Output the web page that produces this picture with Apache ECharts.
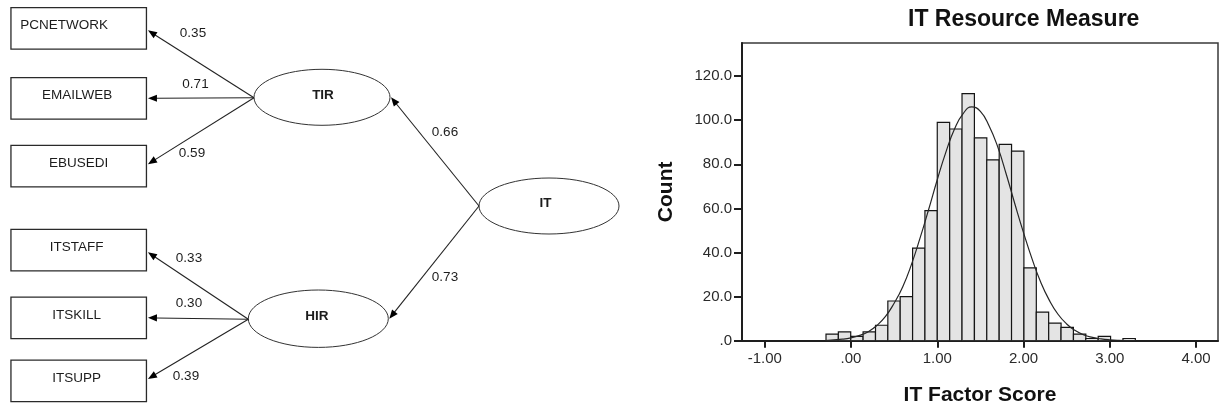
<!DOCTYPE html>
<html><head><meta charset="utf-8">
<script src="https://cdn.jsdelivr.net/npm/echarts@6/dist/echarts.min.js"></script>
<style>html,body{margin:0;padding:0;background:#fff}#chart{width:1219px;height:407px}</style>
</head><body><div id="chart"></div>
<script>
// ================= DATA =================
// Path diagram (structural model)
const indicatorNames = ['PCNETWORK', 'EMAILWEB', 'EBUSEDI', 'ITSTAFF', 'ITSKILL', 'ITSUPP'];
const indicatorFactor = ['TIR', 'TIR', 'TIR', 'HIR', 'HIR', 'HIR'];
const indicatorLoadings = [0.35, 0.71, 0.59, 0.33, 0.30, 0.39];
const factorNames = ['TIR', 'HIR'];
const factorLoadings = [0.66, 0.73];
const higherFactorName = 'IT';

// Histogram
const binStarts = [-0.29, -0.147, -0.003, 0.14, 0.284, 0.427, 0.57, 0.714, 0.857, 1.0, 1.144, 1.287, 1.431,
  1.574, 1.718, 1.861, 2.005, 2.148, 2.292, 2.435, 2.579, 2.722, 2.866, 3.009, 3.153];
const binWidth = 0.1435;
const binCounts = [3, 4, 2, 4, 7, 18, 20, 42, 59, 99, 96, 112, 92, 82, 89, 86, 33, 13, 8, 6, 3, 1, 2, 0, 1];

// Fitted normal curve
const curveX = [-0.3, -0.1, 0.0, 0.1, 0.2, 0.3, 0.4, 0.5, 0.6, 0.7, 0.8, 0.9, 1.0, 1.1, 1.2, 1.3, 1.4,
  1.5, 1.6, 1.7, 1.8, 1.9, 2.0, 2.1, 2.2, 2.3, 2.4, 2.5, 2.6, 2.7, 2.8, 2.9, 3.0, 3.1, 3.3];
const curveY = [0.1, 0.7, 1.3, 2.4, 4.1, 6.9, 11, 17, 24.5, 34.5, 46.5, 59.5, 73, 85.5, 96, 103, 106,
  104, 97.5, 88, 75.5, 62, 49, 37, 26.5, 18.3, 12, 7.6, 4.6, 2.6, 1.5, 0.8, 0.4, 0.2, 0.05];

const xTickValues = [-1, 0, 1, 2, 3, 4];
const xTickLabels = ['-1.00', '.00', '1.00', '2.00', '3.00', '4.00'];
const yTickValues = [0, 20, 40, 60, 80, 100, 120];
const yTickLabels = ['.0', '20.0', '40.0', '60.0', '80.0', '100.0', '120.0'];

const chartTitle = 'IT Resource Measure';
const xAxisTitle = 'IT Factor Score';
const yAxisTitle = 'Count';

// ================= LAYOUT (diagram units = px in the hidden diagram grid) =================
const L = {
  boxCx: 78.7, boxW: 135.5, boxH: 41.5,
  boxCy: [28.3, 98.3, 166.2, 250.2, 317.8, 380.8],
  boxLabelDx: [-14.5, -1.5, 0, -2, -2, -2],
  boxLabelDy: -3,
  factors: {TIR: {cx: 322, cy: 97.3, rx: 68, ry: 28}, HIR: {cx: 318.3, cy: 318.7, rx: 70, ry: 28.7}},
  factorLabelDx: {TIR: 1, HIR: -1.5}, factorLabelDy: -2.5,
  higher: {cx: 549, cy: 206, rx: 70, ry: 28}, higherLabelDx: -3.5,
  edgeLabel: [[193, 33], [195.5, 84], [192, 153], [189, 258], [189, 303], [186, 376]],
  factorEdgeLabel: [[445, 132], [445, 277]]
};
const FONT_D = '13.5px "Liberation Sans", Arial, sans-serif';
const FONT_DB = 'bold 13.5px "Liberation Sans", Arial, sans-serif';
const INK = '#1c1c1c';

// diagram items
const diagramItems = [];
indicatorNames.forEach((n, i) => diagramItems.push({kind: 'box', i}));
factorNames.forEach((f) => diagramItems.push({kind: 'factor', f}));
diagramItems.push({kind: 'higher'});
indicatorNames.forEach((n, i) => diagramItems.push({kind: 'edge', i}));
factorNames.forEach((f, j) => diagramItems.push({kind: 'fedge', j}));

function arrowGroup(api, from, to, label, lp) {
  const a = api.coord(from), b = api.coord(to);
  const dx = b[0] - a[0], dy = b[1] - a[1], len = Math.hypot(dx, dy);
  const ux = dx / len, uy = dy / len, hl = 9, hw = 3.6;
  const base = [b[0] - ux * hl, b[1] - uy * hl];
  const lpp = api.coord(lp);
  return [
    {type: 'line', shape: {x1: a[0], y1: a[1], x2: base[0] + ux, y2: base[1] + uy}, style: {stroke: '#222', lineWidth: 1.1}},
    {type: 'polygon', shape: {points: [[b[0], b[1]], [base[0] - uy * hw, base[1] + ux * hw], [base[0] + uy * hw, base[1] - ux * hw]]}, style: {fill: '#000'}},
    {type: 'text', x: lpp[0], y: lpp[1], style: {text: label, font: FONT_D, fill: INK, align: 'center', verticalAlign: 'middle'}}
  ];
}

function renderDiagram(params, api) {
  const it = diagramItems[params.dataIndex];
  if (it.kind === 'box') {
    const cy = L.boxCy[it.i];
    const p0 = api.coord([L.boxCx - L.boxW / 2, cy - L.boxH / 2]);
    const p1 = api.coord([L.boxCx + L.boxW / 2, cy + L.boxH / 2]);
    const t = api.coord([L.boxCx + L.boxLabelDx[it.i], cy + L.boxLabelDy]);
    return {type: 'group', children: [
      {type: 'rect', shape: {x: p0[0], y: p0[1], width: p1[0] - p0[0], height: p1[1] - p0[1]}, style: {fill: '#fff', stroke: '#2a2a2a', lineWidth: 1.3}},
      {type: 'text', x: t[0], y: t[1], style: {text: indicatorNames[it.i], font: FONT_D, fill: INK, align: 'center', verticalAlign: 'middle'}}
    ]};
  }
  if (it.kind === 'factor' || it.kind === 'higher') {
    const e = it.kind === 'factor' ? L.factors[it.f] : L.higher;
    const name = it.kind === 'factor' ? it.f : higherFactorName;
    const ldx = it.kind === 'factor' ? L.factorLabelDx[it.f] : L.higherLabelDx;
    const c = api.coord([e.cx, e.cy]);
    const t = api.coord([e.cx + ldx, e.cy + L.factorLabelDy]);
    return {type: 'group', children: [
      {type: 'ellipse', shape: {cx: c[0], cy: c[1], rx: e.rx, ry: e.ry}, style: {fill: '#fff', stroke: '#333', lineWidth: 1}},
      {type: 'text', x: t[0], y: t[1], style: {text: name, font: FONT_DB, fill: INK, align: 'center', verticalAlign: 'middle'}}
    ]};
  }
  if (it.kind === 'edge') {
    const e = L.factors[indicatorFactor[it.i]];
    const from = [e.cx - e.rx, e.cy + 0.5];
    const to = [L.boxCx + L.boxW / 2 + 1.5, L.boxCy[it.i] + (e.cy - L.boxCy[it.i]) * 0.03];
    return {type: 'group', children: arrowGroup(api, from, to, indicatorLoadings[it.i].toFixed(2), L.edgeLabel[it.i])};
  }
  if (it.kind === 'fedge') {
    const e = L.factors[factorNames[it.j]], h = L.higher;
    const from = [h.cx - h.rx, h.cy];
    const to = [e.cx + e.rx + 1, e.cy];
    return {type: 'group', children: arrowGroup(api, from, to, factorLoadings[it.j].toFixed(2), L.factorEdgeLabel[it.j])};
  }
}

const histData = binStarts.map((s, i) => [s, s + binWidth, binCounts[i]]);
const curveData = curveX.map((x, i) => [x, curveY[i]]);

const AX = '#1e1e1e';
const FONT_FAMILY = '"Liberation Sans", Arial, sans-serif';

const chart = echarts.init(document.getElementById('chart'), null, {renderer: 'canvas'});
chart.setOption({
  animation: false,
  backgroundColor: '#fff',
  title: {
    text: chartTitle, left: 908, top: 8, padding: 0,
    textStyle: {fontSize: 23, fontWeight: 'bold', color: '#111', fontFamily: FONT_FAMILY}
  },
  grid: [
    {left: 742, top: 43, right: 1, bottom: 66.3, show: true, borderColor: '#3a3a3a', borderWidth: 1.5,
      containLabel: false, outerBoundsMode: 'none'},
    {left: 0, top: 0, width: 620, height: 407, show: false, containLabel: false, outerBoundsMode: 'none'}
  ],
  xAxis: [
    {
      type: 'value', gridIndex: 0, min: -1.264, max: 4.255,
      name: xAxisTitle, nameLocation: 'middle', nameGap: 44,
      nameTextStyle: {fontSize: 21, fontWeight: 'bold', color: '#111', fontFamily: FONT_FAMILY},
      axisLine: {show: true, onZero: false, lineStyle: {color: AX, width: 2}},
      axisTick: {show: true, customValues: xTickValues, length: 7, lineStyle: {color: AX, width: 2}},
      axisLabel: {customValues: xTickValues, margin: 11, fontSize: 15, color: '#2a2a2a', fontFamily: FONT_FAMILY,
        formatter: (v) => xTickLabels[xTickValues.indexOf(v)]},
      splitLine: {show: false}
    },
    {type: 'value', gridIndex: 1, min: 0, max: 620, show: false}
  ],
  yAxis: [
    {
      type: 'value', gridIndex: 0, min: 0, max: 135,
      name: yAxisTitle, nameLocation: 'middle', nameGap: 65, nameRotate: 90,
      nameTextStyle: {fontSize: 21, fontWeight: 'bold', color: '#111', fontFamily: FONT_FAMILY},
      axisLine: {show: true, onZero: false, lineStyle: {color: AX, width: 2}},
      axisTick: {show: true, customValues: yTickValues, length: 8, lineStyle: {color: AX, width: 2}},
      axisLabel: {customValues: yTickValues, margin: 10, fontSize: 15, color: '#2a2a2a', fontFamily: FONT_FAMILY,
        formatter: (v) => yTickLabels[yTickValues.indexOf(v)]},
      splitLine: {show: false}
    },
    {type: 'value', gridIndex: 1, min: 0, max: 407, inverse: true, show: false}
  ],
  series: [
    {
      type: 'custom', name: 'histogram', xAxisIndex: 0, yAxisIndex: 0,
      data: histData, encode: {x: [0, 1], y: 2}, clip: true,
      renderItem: function (params, api) {
        const p0 = api.coord([api.value(0), api.value(2)]);
        const p1 = api.coord([api.value(1), 0]);
        return {type: 'rect', shape: {x: p0[0], y: p0[1], width: p1[0] - p0[0], height: p1[1] - p0[1]},
          style: {fill: '#e4e4e4', stroke: '#151515', lineWidth: 1.2}};
      },
      z: 2
    },
    {
      type: 'line', name: 'normal', xAxisIndex: 0, yAxisIndex: 0,
      data: curveData, smooth: true, showSymbol: false, symbol: 'none',
      lineStyle: {color: '#262626', width: 1.2}, z: 3
    },
    {
      type: 'custom', name: 'diagram', xAxisIndex: 1, yAxisIndex: 1,
      data: diagramItems.map((d, i) => [0, 0]),
      renderItem: renderDiagram, z: 5
    }
  ]
});
</script></body></html>
